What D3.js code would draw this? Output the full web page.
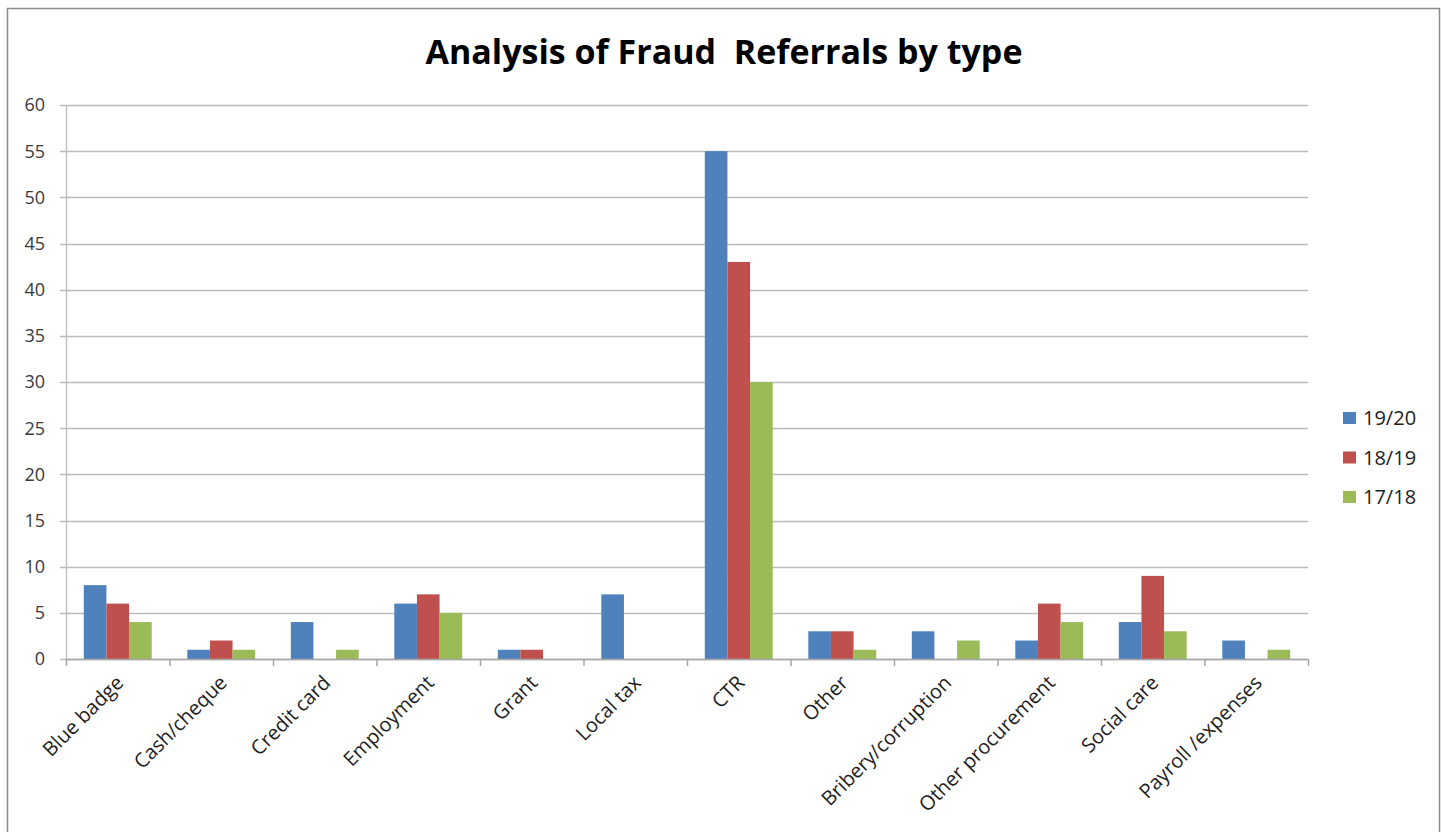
<!DOCTYPE html>
<html><head><meta charset="utf-8">
<script src="https://cdn.jsdelivr.net/npm/d3@7"></script>
<style>html,body{margin:0;padding:0;background:#fff;}svg{display:block;}</style>
</head><body>
<svg id="chart" width="1443" height="832"></svg>
<script>
const categories = ["Blue badge","Cash/cheque","Credit card","Employment","Grant","Local tax","CTR","Other","Bribery/corruption","Other procurement","Social care","Payroll /expenses"];
const seriesNames = ["19/20","18/19","17/18"];
const values1920 = [8,1,4,6,1,7,55,3,3,2,4,2];
const values1819 = [6,2,0,7,1,0,43,3,0,6,9,0];
const values1718 = [4,1,1,5,0,0,30,1,2,4,3,1];
const colors = ["#4F81BD","#C0504D","#9BBB59"];
const yTicks = [0,5,10,15,20,25,30,35,40,45,50,55,60];
const titleText = "Analysis of Fraud\u00a0 Referrals by type";

const seriesValues = [values1920, values1819, values1718];
const svg = d3.select("#chart");
const font = "'Open Sans', 'Noto Sans', sans-serif";

// frame
svg.append("rect").attr("x",7.5).attr("y",8.5).attr("width",1432).attr("height",840)
  .attr("fill","#fff").attr("stroke","#8c8c8c").attr("stroke-width",1.5);

const pLeft = 66, pRight = 1308, pTop = 105, pBottom = 659;
const x = d3.scaleBand().domain(categories).range([pLeft,pRight]).paddingInner(0).paddingOuter(0);
const y = d3.scaleLinear().domain([0,60]).range([pBottom,pTop]);
const groupPad = x.bandwidth()*0.172;
const xs = d3.scaleBand().domain(seriesNames).range([groupPad, x.bandwidth()-groupPad]).padding(0);

// gridlines
svg.append("g").selectAll("line").data(yTicks).join("line")
  .attr("x1",pLeft-6).attr("x2",pRight).attr("y1",d=>Math.round(y(d))+0.5).attr("y2",d=>Math.round(y(d))+0.5)
  .attr("stroke","#bcbcbc").attr("stroke-width",1.3);

// y axis line
svg.append("line").attr("x1",pLeft+0.5).attr("x2",pLeft+0.5).attr("y1",pTop).attr("y2",pBottom+1)
  .attr("stroke","#bcbcbc").attr("stroke-width",1.3);

// y labels
svg.append("g").selectAll("text").data(yTicks).join("text")
  .attr("x",45).attr("y",d=>y(d)).attr("dy","0.36em").attr("text-anchor","end")
  .attr("font-family",font).attr("font-size",18).attr("fill","#3a3a3a").text(d=>d);

// bars
const groups = svg.append("g").selectAll("g").data(categories).join("g")
  .attr("transform",d=>`translate(${x(d)},0)`);
groups.selectAll("rect").data((d,i)=>seriesNames.map((s,j)=>({s,j,v:seriesValues[j][i]}))).join("rect")
  .attr("x",d=>xs(d.s)).attr("width",xs.bandwidth())
  .attr("y",d=>y(d.v)).attr("height",d=>y(0)-y(d.v))
  .attr("fill",d=>colors[d.j]);

// x axis line & ticks
svg.append("line").attr("x1",pLeft).attr("x2",pRight).attr("y1",pBottom+0.5).attr("y2",pBottom+0.5)
  .attr("stroke","#a6a6a6").attr("stroke-width",1.5);
const tickPos = categories.map(c=>x(c)).concat([pRight]);
svg.append("g").selectAll("line").data(tickPos).join("line")
  .attr("x1",d=>d+0.5).attr("x2",d=>d+0.5).attr("y1",pBottom).attr("y2",pBottom+7)
  .attr("stroke","#a6a6a6").attr("stroke-width",1.5);

// x labels
svg.append("g").selectAll("text").data(categories).join("text")
  .attr("transform",d=>`translate(${x(d)+x.bandwidth()/2+7},${pBottom+25}) rotate(-45)`)
  .attr("text-anchor","end").attr("font-family",font).attr("font-size",20).attr("fill","#1e1e1e")
  .text(d=>d);

// title
svg.append("text").attr("x",724).attr("y",64).attr("text-anchor","middle")
  .attr("font-family",font).attr("font-weight","bold")
  .attr("font-size",34).attr("fill","#000").text(titleText);

// legend
const leg = svg.append("g").selectAll("g").data(seriesNames).join("g")
  .attr("transform",(d,i)=>`translate(1343,${418+i*39.5})`);
leg.append("rect").attr("x",0).attr("y",-6).attr("width",13).attr("height",12).attr("fill",(d,i)=>colors[i]);
leg.append("text").attr("x",20).attr("y",0).attr("dy","0.36em").attr("font-family",font)
  .attr("font-size",20).attr("fill","#1e1e1e").text(d=>d);
</script>
</body></html>
